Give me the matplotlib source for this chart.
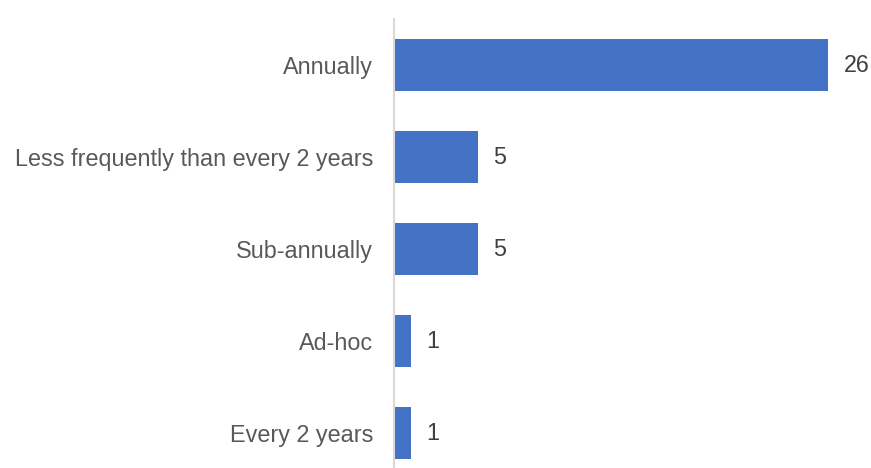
import matplotlib
matplotlib.use("Agg")
import matplotlib.pyplot as plt

categories = ["Annually", "Less frequently than every 2 years", "Sub-annually", "Ad-hoc", "Every 2 years"]
values = [26, 5, 5, 1, 1]

plt.rcParams['font.family'] = ['Liberation Sans', 'DejaVu Sans']

fig = plt.figure(figsize=(8.71, 4.68), dpi=100)
ax = fig.add_axes([394/871, 0, (871-394)/871, 1 - 19/468])

pos = list(range(len(categories)))
bars = ax.barh(pos, values, height=0.565, color="#4472C4")
ax.set_ylim(4.38, -0.50)
ax.set_xlim(0, 28.56)
ax.set_yticks(pos)
ax.set_yticklabels(categories, fontsize=16.8, color="#595959")
ax.tick_params(axis='y', length=0, pad=15)
ax.set_xticks([])
for s in ["top", "right", "bottom"]:
    ax.spines[s].set_visible(False)
ax.spines["left"].set_color("#D9D9D9")
ax.spines["left"].set_linewidth(1.5)

for b, v in zip(bars, values):
    ax.annotate(str(v), xy=(b.get_width(), b.get_y() + b.get_height()/2),
                xytext=(11, 0), textcoords="offset points",
                va="center", ha="left", fontsize=16.8, color="#404040")

fig.savefig("out.png", dpi=100)
